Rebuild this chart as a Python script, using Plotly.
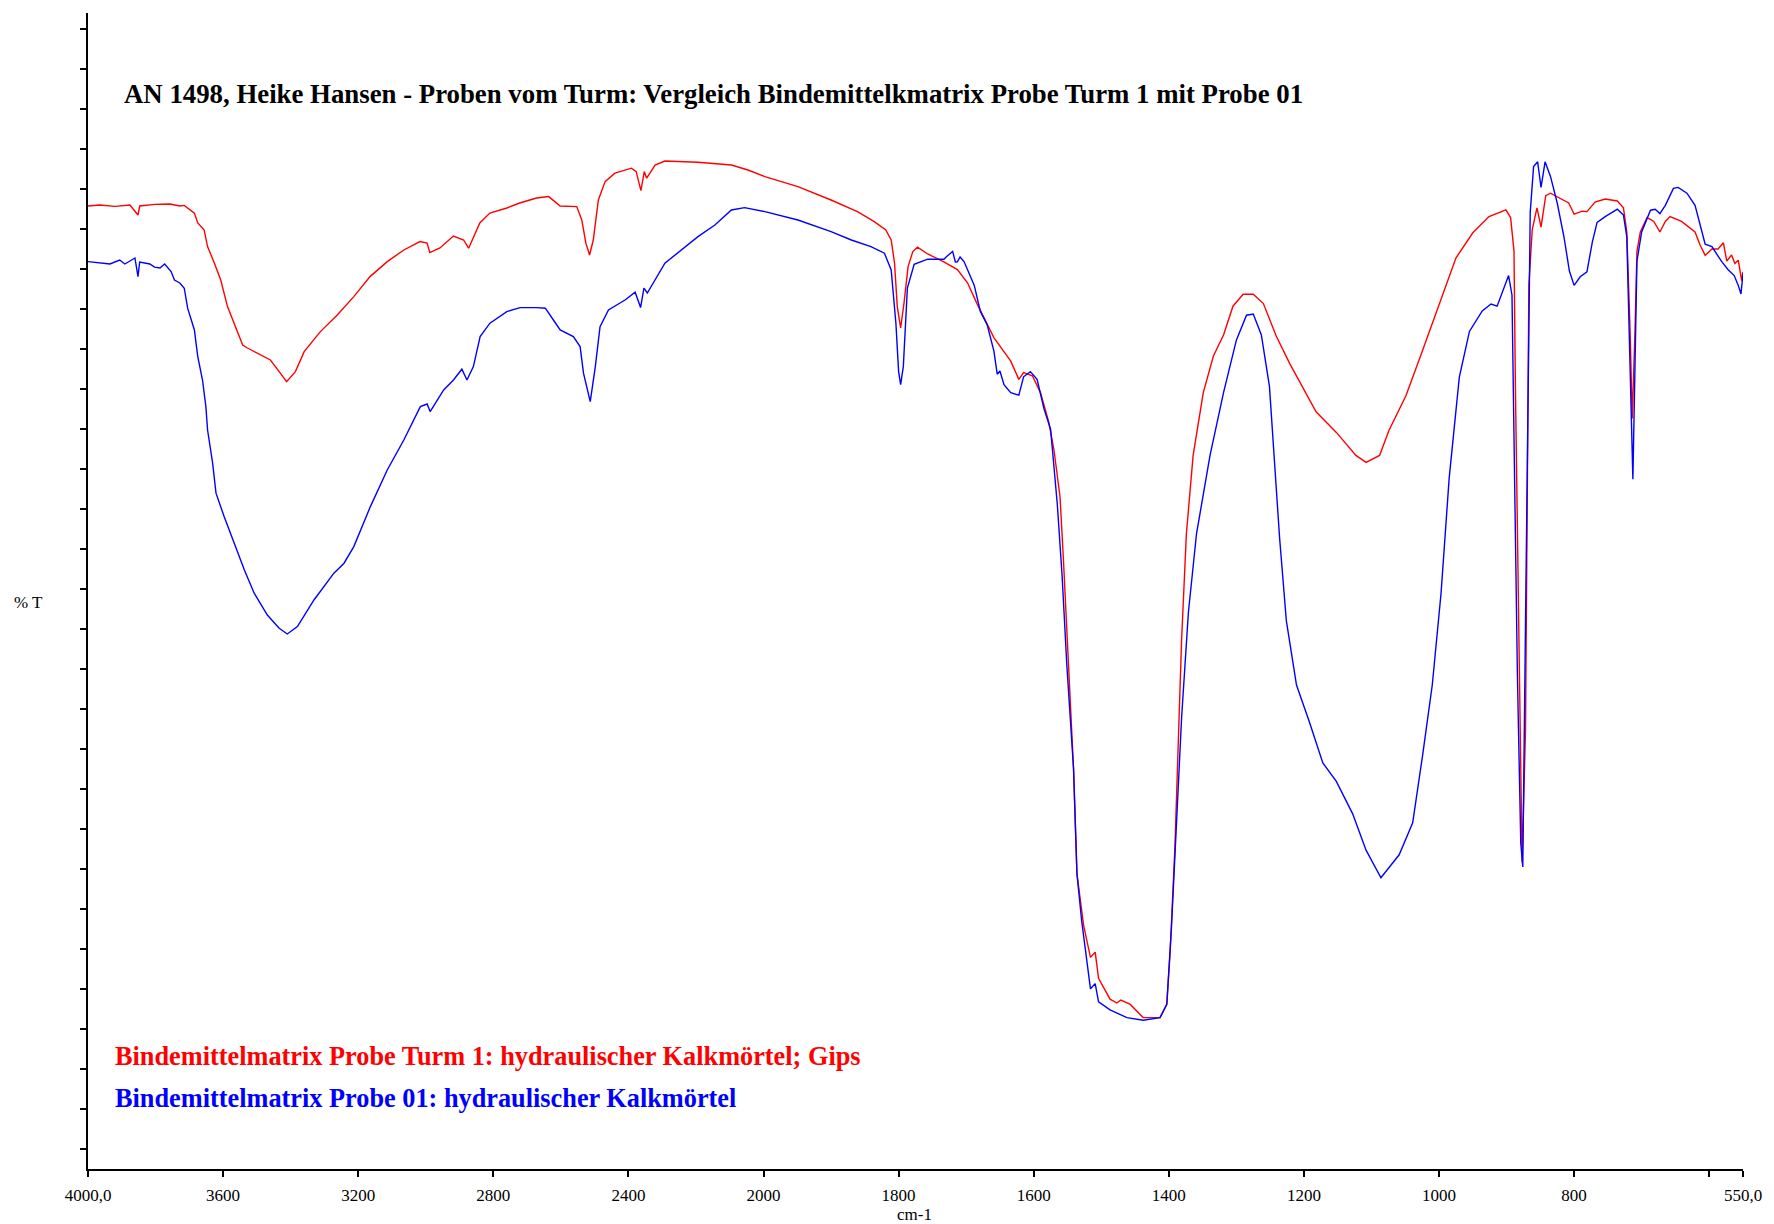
import numpy as np
import plotly.graph_objects as go

# FTIR spectra: wavenumber (cm-1) and transmittance (%T, arbitrary units)
red_wn = [4000, 3965, 3920, 3876, 3852, 3847, 3802, 3758, 3728, 3715,
          3685, 3675, 3656, 3646, 3626, 3607, 3587, 3567, 3542, 3528,
          3498, 3460, 3434, 3412, 3386, 3360, 3312, 3262, 3213, 3165,
          3114, 3065, 3017, 2996, 2988, 2958, 2918, 2888, 2873, 2859,
          2840, 2810, 2760, 2722, 2672, 2636, 2602, 2553, 2538, 2526,
          2515, 2504, 2489, 2469, 2440, 2391, 2377, 2363, 2353, 2346,
          2321, 2292, 2194, 2095, 2046, 1998, 1949, 1900, 1861, 1836,
          1819, 1811, 1806, 1802, 1797, 1792, 1786, 1779, 1772, 1757,
          1733, 1713, 1698, 1684, 1659, 1634, 1622, 1615, 1602, 1590,
          1578, 1570, 1561, 1556, 1548, 1541, 1536, 1526, 1516, 1509,
          1504, 1487, 1477, 1471, 1457, 1438, 1413, 1403, 1398, 1391,
          1386, 1381, 1374, 1364, 1349, 1334, 1319, 1305, 1290, 1275,
          1260, 1241, 1221, 1206, 1182, 1152, 1123, 1108, 1088, 1074,
          1049, 1024, 1000, 975, 950, 926, 901, 894, 889, 887,
          882, 877, 872, 869, 867, 862, 855, 849, 842, 835,
          818, 808, 800, 788, 781, 769, 754, 736, 727, 722,
          717, 714, 710, 707, 702, 692, 682, 673, 665, 658,
          641, 621, 614, 606, 596, 587, 579, 574, 567, 562,
          557, 552, 550]
red_t = [47.15, 47.2, 47.13, 47.2, 46.7, 47.15, 47.23, 47.25, 47.15, 47.18,
         46.79, 46.3, 45.95, 45.12, 44.3, 43.45, 42.12, 41.3, 40.2, 40.05,
         39.8, 39.45, 38.87, 38.37, 38.87, 39.87, 40.87, 41.7, 42.62, 43.62,
         44.37, 44.95, 45.37, 45.3, 44.82, 45.05, 45.65, 45.45, 45.04, 45.55,
         46.3, 46.8, 47.05, 47.3, 47.55, 47.62, 47.15, 47.12, 46.45, 45.29,
         44.7, 45.45, 47.45, 48.37, 48.79, 49.04, 48.87, 47.92, 48.87, 48.54,
         49.2, 49.4, 49.34, 49.2, 48.95, 48.62, 48.12, 47.45, 46.87, 46.37,
         45.95, 45.45, 44.29, 42.12, 41.05, 42.29, 44.12, 44.87, 45.09, 44.75,
         44.36, 43.97, 43.31, 42.27, 40.57, 39.39, 38.48, 38.82, 38.66, 37.82,
         36.38, 34.95, 32.59, 29.45, 24.22, 18.99, 13.76, 11.15, 9.58, 9.84,
         8.53, 7.49, 7.3, 7.45, 7.23, 6.57, 6.57, 7.23, 9.84, 15.07,
         20.3, 25.53, 30.76, 34.68, 37.82, 39.65, 40.7, 42.14, 42.74, 42.74,
         42.27, 40.65, 39.27, 38.35, 36.86, 35.83, 34.68, 34.33, 34.68, 35.94,
         37.66, 39.96, 42.25, 44.55, 45.81, 46.62, 46.96, 46.57, 44.88, 38.33,
         26.22, 14.34, 20.9, 32.38, 43.18, 45.97, 47.06, 46.09, 47.67, 47.79,
         47.5, 47.3, 46.74, 46.89, 46.87, 47.35, 47.5, 47.4, 47.06, 45.85,
         40.76, 36.52, 40.76, 44.88, 45.85, 46.57, 46.38, 45.85, 46.38, 46.62,
         46.38, 45.85, 45.24, 44.68, 45.0, 45.0, 45.31, 44.39, 44.7, 44.27,
         44.44, 43.42, 43.86]

blue_wn = [4000, 3935, 3906, 3891, 3861, 3852, 3847, 3817, 3803, 3787,
           3773, 3754, 3744, 3728, 3715, 3705, 3685, 3675, 3661, 3651,
           3646, 3631, 3621, 3597, 3567, 3537, 3508, 3469, 3434, 3410,
           3380, 3331, 3272, 3242, 3213, 3164, 3114, 3065, 3016, 2996,
           2987, 2947, 2918, 2893, 2878, 2859, 2839, 2810, 2760, 2721,
           2672, 2646, 2622, 2602, 2563, 2543, 2533, 2513, 2498, 2484,
           2459, 2410, 2380, 2364, 2354, 2344, 2292, 2194, 2144, 2095,
           2056, 1998, 1949, 1900, 1870, 1841, 1821, 1811, 1804, 1800,
           1797, 1793, 1787, 1777, 1757, 1733, 1728, 1720, 1716, 1713,
           1709, 1703, 1688, 1679, 1669, 1659, 1654, 1650, 1644, 1634,
           1622, 1615, 1605, 1595, 1585, 1575, 1565, 1558, 1551, 1541,
           1536, 1529, 1516, 1509, 1504, 1487, 1462, 1438, 1413, 1403,
           1396, 1388, 1381, 1371, 1359, 1339, 1319, 1300, 1285, 1275,
           1270, 1263, 1251, 1243, 1236, 1226, 1211, 1192, 1172, 1152,
           1128, 1108, 1086, 1059, 1039, 1024, 1010, 997, 985, 970,
           955, 936, 923, 914, 906, 897, 892, 889, 884, 879,
           876, 872, 868, 865, 860, 854, 849, 843, 835, 825,
           815, 807, 800, 791, 781, 773, 766, 754, 736, 727,
           722, 718, 715, 713, 711, 707, 700, 687, 680, 673,
           665, 653, 646, 633, 621, 606, 596, 582, 572, 563,
           557, 553, 550]
blue_t = [44.37, 44.25, 44.45, 44.25, 44.55, 43.62, 44.35, 44.25, 44.09, 44.05,
          44.25, 43.87, 43.45, 43.3, 43.04, 42.04, 40.95, 39.62, 38.45, 37.12,
          35.95, 34.29, 32.79, 31.62, 30.29, 28.95, 27.79, 26.7, 26.04, 25.75,
          26.12, 27.45, 28.79, 29.29, 30.12, 32.12, 33.95, 35.45, 37.12, 37.25,
          36.87, 37.95, 38.45, 38.99, 38.45, 39.12, 40.62, 41.29, 41.87, 42.07,
          42.07, 42.04, 41.45, 40.95, 40.62, 40.12, 38.79, 37.37, 39.12, 41.12,
          41.95, 42.45, 42.84, 42.07, 43.04, 42.8, 44.29, 45.62, 46.2, 46.95,
          47.07, 46.87, 46.45, 45.87, 45.45, 45.12, 44.79, 43.95, 41.29, 38.87,
          38.22, 39.13, 43.05, 44.23, 44.49, 44.49, 44.65, 44.88, 44.35, 44.36,
          44.6, 44.36, 43.18, 41.88, 41.22, 39.91, 38.74, 38.9, 38.22, 37.82,
          37.69, 38.61, 38.87, 38.48, 37.04, 35.99, 32.2, 28.67, 24.22, 18.99,
          13.76, 11.41, 8.01, 8.27, 7.36, 6.96, 6.57, 6.44, 6.57, 7.23,
          11.15, 16.38, 21.61, 26.84, 30.76, 34.68, 37.82, 40.44, 41.69, 41.75,
          41.34, 40.7, 38.12, 34.22, 30.55, 26.41, 23.2, 21.36, 19.3, 18.38,
          16.77, 14.94, 13.56, 14.71, 16.31, 19.76, 23.2, 27.79, 33.53, 38.58,
          40.88, 41.9, 42.25, 42.14, 42.83, 43.67, 42.7, 35.91, 23.79, 15.3,
          14.1, 26.22, 38.33, 46.82, 49.12, 49.36, 48.08, 49.36, 48.63, 47.3,
          45.6, 43.9, 43.18, 43.61, 43.86, 45.36, 46.33, 46.62, 46.99, 46.7,
          45.6, 40.76, 35.91, 33.49, 37.12, 44.39, 45.85, 46.94, 46.99, 46.77,
          47.18, 48.03, 48.08, 47.79, 47.18, 45.24, 45.12, 44.39, 43.96, 43.67,
          43.18, 42.75, 43.79]

tick_wn = [4000, 3600, 3200, 2800, 2400, 2000, 1800, 1600, 1400, 1200, 1000, 800, 600, 550]
tick_text = ["4000,0", "3600", "3200", "2800", "2400", "2000", "1800", "1600",
             "1400", "1200", "1000", "800", "", "550,0"]

title_text = "AN 1498, Heike Hansen - Proben vom Turm: Vergleich Bindemittelkmatrix Probe Turm 1 mit Probe 01"
red_label = "Bindemittelmatrix Probe Turm 1: hydraulischer Kalkmörtel; Gips"
blue_label = "Bindemittelmatrix Probe 01: hydraulischer Kalkmörtel"


def axis_pos(wn):
    """Spectrometer-style abscissa: scale doubles below 2000 cm-1."""
    wn = np.asarray(wn, dtype=float)
    return np.where(wn >= 2000, (4000 - wn) / 2.0, 1000 + (2000 - wn))


FONT = "Liberation Serif, Times New Roman, serif"

fig = go.Figure()
fig.add_trace(go.Scatter(x=axis_pos(red_wn), y=red_t, mode="lines",
                         line=dict(color="#ff0000", width=1.4), name=red_label))
fig.add_trace(go.Scatter(x=axis_pos(blue_wn), y=blue_t, mode="lines",
                         line=dict(color="#0000ff", width=1.4), name=blue_label))

W, H = 1774, 1224
L, R, T, B = 88, 26, 13, 55
pw, ph = W - L - R, H - T - B


def px(xp):
    return (xp - L) / pw


def py(yp):
    return (H - B - yp) / ph


fig.update_layout(
    width=W, height=H, autosize=False,
    margin=dict(l=L, r=R, t=T, b=B, pad=0),
    paper_bgcolor="white", plot_bgcolor="white",
    showlegend=False,
    font=dict(family=FONT, color="black"),
    xaxis=dict(
        range=[0, 2450], tickmode="array",
        tickvals=axis_pos(tick_wn).tolist(), ticktext=tick_text,
        ticks="outside", ticklen=6, tickwidth=1.5, tickcolor="black",
        ticklabelstandoff=4,
        showline=True, linecolor="black", linewidth=2,
        showgrid=False, zeroline=False,
        tickfont=dict(family=FONT, size=17, color="black"),
    ),
    yaxis=dict(
        range=[-1, 56.8], tick0=0, dtick=2,
        ticks="outside", ticklen=6, tickwidth=1.5, tickcolor="black",
        showticklabels=False,
        showline=True, linecolor="black", linewidth=2,
        showgrid=False, zeroline=False,
    ),
)

fig.add_annotation(text="<b>" + title_text + "</b>", xref="paper", yref="paper",
                   x=px(122), y=py(94), xanchor="left", yanchor="middle",
                   showarrow=False, font=dict(family=FONT, size=26.8, color="black"))
fig.add_annotation(text="<b>" + red_label + "</b>", xref="paper", yref="paper",
                   x=px(113), y=py(1056), xanchor="left", yanchor="middle",
                   showarrow=False, font=dict(family=FONT, size=26.3, color="#ff0000"))
fig.add_annotation(text="<b>" + blue_label + "</b>", xref="paper", yref="paper",
                   x=px(113), y=py(1098), xanchor="left", yanchor="middle",
                   showarrow=False, font=dict(family=FONT, size=26.3, color="#0000ff"))
fig.add_annotation(text="% T", xref="paper", yref="paper",
                   x=px(28), y=py(602), xanchor="center", yanchor="middle",
                   showarrow=False, font=dict(family=FONT, size=17, color="black"))
fig.add_annotation(text="cm-1", xref="paper", yref="paper",
                   x=px(917), y=py(1214), xanchor="center", yanchor="middle",
                   showarrow=False, font=dict(family=FONT, size=17, color="black"))

fig.write_html("out.html")
